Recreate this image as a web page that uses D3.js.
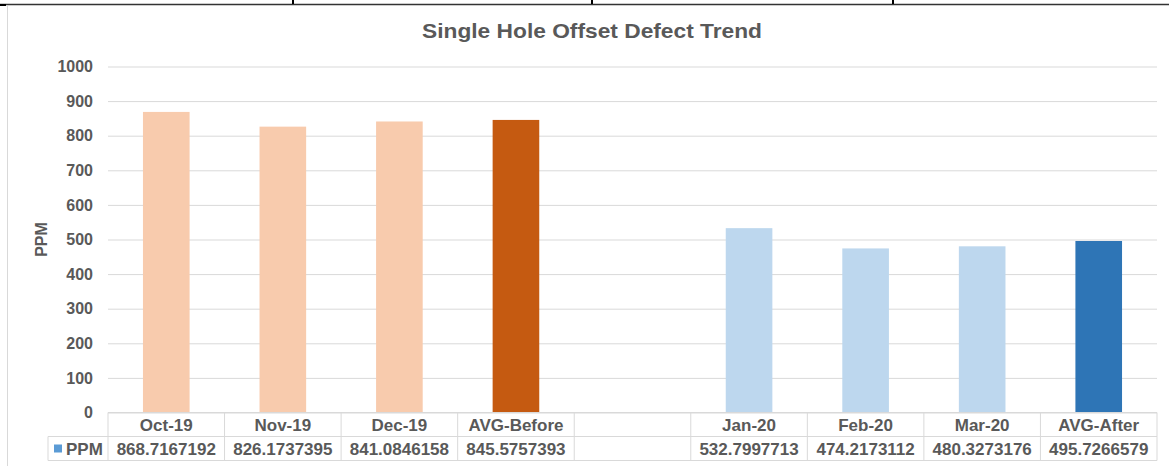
<!DOCTYPE html>
<html>
<head>
<meta charset="utf-8">
<script src="https://cdn.jsdelivr.net/npm/d3@7"></script>
<style>
  body { margin: 0; background: #fff; }
  #chart { width: 1169px; height: 466px; }
  text { font-family: "Liberation Sans", Arial, sans-serif; fill: #595959; font-weight: bold; }
</style>
</head>
<body>
<div id="chart"></div>
<script>
// chart values
const categories = ["Oct-19", "Nov-19", "Dec-19", "AVG-Before", "", "Jan-20", "Feb-20", "Mar-20", "AVG-After"];
const ppmValues = [868.7167192, 826.1737395, 841.0846158, 845.5757393, null, 532.7997713, 474.2173112, 480.3273176, 495.7266579];
const yTicks = [0, 100, 200, 300, 400, 500, 600, 700, 800, 900, 1000];
const seriesName = "PPM";
const chartTitle = "Single Hole Offset Defect Trend";

const width = document.querySelector("#chart").clientWidth;
const height = document.querySelector("#chart").clientHeight;
const margin = { top: 66.5, left: 108, right: 12, bottom: 53.5 };

const svg = d3.select("#chart")
    .append("svg")
    .attr("width", width)
    .attr("height", height);

// document table frame above the chart
svg.append("line")
    .attr("x1", 0).attr("x2", width).attr("y1", 4.5).attr("y2", 4.5)
    .attr("stroke", "#333").attr("stroke-width", 1.5);
svg.append("rect").attr("x", 0).attr("y", 4).attr("width", 6).attr("height", 2).attr("fill", "#000");
[293, 592, 893].forEach(x => {
    svg.append("line").attr("x1", x).attr("x2", x).attr("y1", 0).attr("y2", 4)
        .attr("stroke", "#000").attr("stroke-width", 2);
});
// chart area left border
svg.append("line")
    .attr("x1", 7.5).attr("x2", 7.5).attr("y1", 6).attr("y2", height)
    .attr("stroke", "#d9d9d9");

const xScale = d3.scaleBand()
    .domain(d3.range(categories.length))
    .range([margin.left, width - margin.right]);

const yScale = d3.scaleLinear()
    .domain([0, 1000])
    .range([height - margin.bottom, margin.top]);

// y axis with gridlines
const yAxis = svg.append("g")
    .attr("transform", `translate(${margin.left},0)`)
    .call(d3.axisLeft(yScale).tickValues(yTicks)
        .tickFormat(d3.format("d"))
        .tickSizeInner(-(width - margin.right - margin.left))
        .tickSizeOuter(0)
        .tickPadding(15));
yAxis.select(".domain").remove();
yAxis.selectAll(".tick line").attr("stroke", "#d9d9d9");
yAxis.selectAll(".tick text")
    .attr("font-size", 16)
    .attr("font-family", "Liberation Sans, Arial, sans-serif")
    .attr("fill", "#595959")
    .attr("font-weight", "bold");

// bar colours: lighter months, darker averages
const colorOf = i => {
    const before = i < 4;
    const avg = categories[i].startsWith("AVG");
    if (before) return avg ? "#c55a11" : "#f8cbad";
    return avg ? "#2e75b6" : "#bdd7ee";
};

const barW = xScale.bandwidth() * 0.4;
svg.selectAll("rect.bar")
    .data(ppmValues.map((v, i) => ({ v, i })).filter(d => d.v != null))
    .enter()
    .append("rect")
    .attr("class", "bar")
    .attr("x", d => xScale(d.i) + (xScale.bandwidth() - barW) / 2)
    .attr("y", d => yScale(d.v))
    .attr("width", barW)
    .attr("height", d => yScale(0) - yScale(d.v))
    .attr("fill", d => colorOf(d.i));

// data table under the plot
const y0 = yScale(0);
const rowH = 24;
const legendLeft = 48;
const xLeft = margin.left, xRight = width - margin.right;
const grid = svg.append("g").attr("stroke", "#d9d9d9").attr("stroke-width", 1);
grid.append("line").attr("x1", xLeft).attr("x2", xRight).attr("y1", y0).attr("y2", y0);
grid.append("line").attr("x1", legendLeft).attr("x2", xRight).attr("y1", y0 + rowH).attr("y2", y0 + rowH);
grid.append("line").attr("x1", legendLeft).attr("x2", xRight).attr("y1", y0 + 2 * rowH).attr("y2", y0 + 2 * rowH);
grid.append("line").attr("x1", legendLeft).attr("x2", legendLeft).attr("y1", y0 + rowH).attr("y2", y0 + 2 * rowH);
d3.range(categories.length + 1).forEach(i => {
    const x = i < categories.length ? xScale(i) : xRight;
    grid.append("line").attr("x1", x).attr("x2", x).attr("y1", y0).attr("y2", y0 + 2 * rowH);
});

// category row
svg.selectAll("text.cat")
    .data(categories)
    .enter()
    .append("text")
    .attr("class", "cat")
    .attr("x", (d, i) => xScale(i) + xScale.bandwidth() / 2)
    .attr("y", y0 + 18)
    .attr("text-anchor", "middle")
    .attr("font-size", 17)
    .text(d => d);

// value row
svg.selectAll("text.val")
    .data(ppmValues)
    .enter()
    .append("text")
    .attr("class", "val")
    .attr("x", (d, i) => xScale(i) + xScale.bandwidth() / 2)
    .attr("y", y0 + rowH + 18)
    .attr("text-anchor", "middle")
    .attr("font-size", 17)
    .text(d => d == null ? "" : d.toFixed(7));

// legend key in the table
svg.append("rect")
    .attr("x", 54).attr("y", y0 + rowH + 8).attr("width", 8).attr("height", 8)
    .attr("fill", "#5b9bd5");
svg.append("text")
    .attr("x", 66).attr("y", y0 + rowH + 18)
    .attr("font-size", 17)
    .text(seriesName);

// title
svg.append("text")
    .attr("x", 592)
    .attr("y", 38)
    .attr("text-anchor", "middle")
    .attr("font-size", 21)
    .attr("textLength", 340)
    .attr("lengthAdjust", "spacingAndGlyphs")
    .text(chartTitle);

// y axis label
svg.append("text")
    .attr("transform", `translate(47,${(yScale(0) + yScale(1000)) / 2}) rotate(-90)`)
    .attr("text-anchor", "middle")
    .attr("font-size", 16)
    .text(seriesName);
</script>
</body>
</html>
